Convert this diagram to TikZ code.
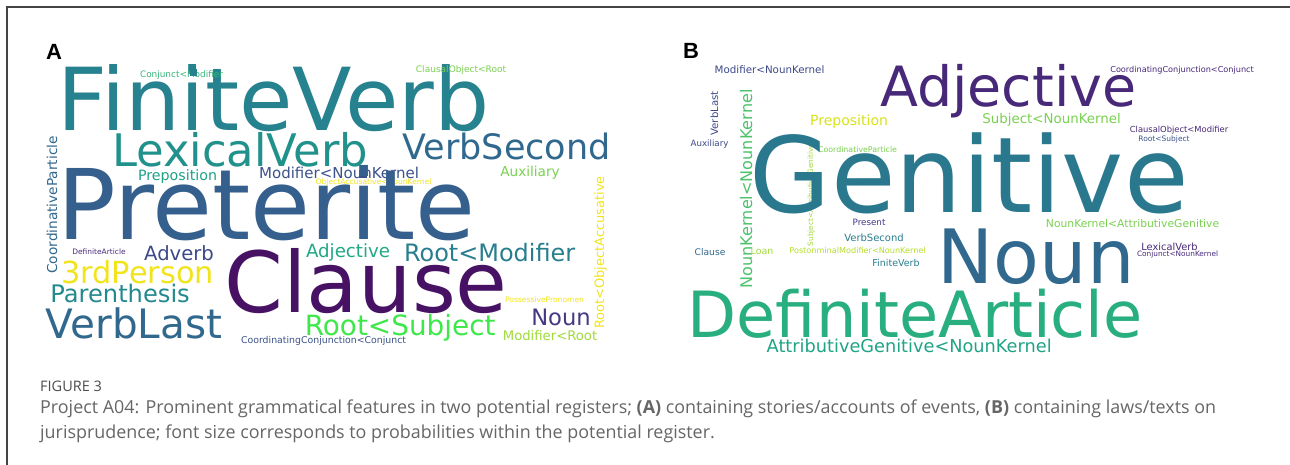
\documentclass[tikz,border=0pt]{standalone}
\usepackage{fontspec}
\setmainfont{DejaVu Sans}
\newfontfamily\capfont{Open Sans}
\newfontfamily\labfont{Liberation Sans}
\definecolor{vTeal}{HTML}{26828E}
\definecolor{vTealB}{HTML}{21918C}
\definecolor{vBlue}{HTML}{31688E}
\definecolor{vBlueP}{HTML}{355F8D}
\definecolor{vIndigo}{HTML}{3E4989}
\definecolor{vNavy}{HTML}{3B528B}
\definecolor{vPurple}{HTML}{482878}
\definecolor{vPurpleD}{HTML}{471164}
\definecolor{vPurpleM}{HTML}{443983}
\definecolor{vGreenT}{HTML}{1FA187}
\definecolor{vGreenA}{HTML}{22A884}
\definecolor{vGreen}{HTML}{35B779}
\definecolor{vGreenD}{HTML}{29AF7F}
\definecolor{vGreenL}{HTML}{7AD151}
\definecolor{vGreenM}{HTML}{4CC26C}
\definecolor{vLime}{HTML}{A0DA39}
\definecolor{vLimeY}{HTML}{B5DE2B}
\definecolor{vYellowG}{HTML}{D8E219}
\definecolor{vYellow}{HTML}{F2E41C}
\definecolor{vVivid}{HTML}{3EE84A}
\definecolor{vTealC}{HTML}{287D8E}
\definecolor{vTealP}{HTML}{23898E}
\definecolor{vTealG}{HTML}{2A788E}
\definecolor{vTealA}{HTML}{20A386}
\definecolor{capgray}{HTML}{666666}
\definecolor{capdark}{HTML}{4D4D4D}
\definecolor{framegray}{HTML}{444444}
\tikzset{
  word/.style={anchor=base west,inner sep=0pt,outer sep=0pt},
  vword/.style={anchor=base west,inner sep=0pt,outer sep=0pt,rotate=90},
  panellabel/.style={anchor=base west,inner sep=0pt,font=\labfont\bfseries\fontsize{22}{22}\selectfont},
  captext/.style={anchor=base west,inner sep=0pt,font=\capfont\fontsize{17.9}{17.9}\selectfont,text=capgray},
}
% name, ink-left x, baseline y, ink width, colour, text
\newcommand\wc[6]{%
  \pgfmathsetlengthmacro\wcW{1.025*#4}%
  \node[word,text=#5] (#1) at ({#2-0.012*#4},#3) {\resizebox{\wcW}{!}{#6}};}
% name, baseline x, bottom y, ink length, colour, text
\newcommand\wv[6]{%
  \pgfmathsetlengthmacro\wcW{1.025*#4}%
  \node[vword,text=#5] (#1) at (#2,{#3+0.012*#4}) {\resizebox{\wcW}{!}{#6}};}
\begin{document}
\begin{tikzpicture}[x=1pt,y=-1pt]
\useasboundingbox[fill=white] (0,0) rectangle (1290,465);
\draw[framegray,line width=1.1pt] (7,465) -- (7,7) -- (1290,7);
% panel labels
\node[panellabel] (labA) at (46,60) {A};
\node[panellabel] (labB) at (683,59) {B};
% ---------- Panel A ----------
\wc{aFiniteVerb}{63}{131}{421}{vTeal}{FiniteVerb}
\wc{aConjMod}{141}{78}{81}{vGreen}{Conjunct<Modifier}
\fill[vTeal] (190,69) rectangle (197,76);
\wc{aClausObjRoot}{417}{73}{88}{vGreenL}{ClausalObject<Root}
\wc{aLexicalVerb}{115}{167}{250}{vTealB}{LexicalVerb}
\wc{aVerbSecond}{405}{160}{203}{vBlue}{VerbSecond}
\wc{aModNK}{261}{179}{156}{vNavy}{Modifier<NounKernel}
\fill[vNavy] (359,171) rectangle (367,178);
\wc{aObjAcc}{317}{185}{113}{vYellow}{ObjectAccusative<NounKernel}
\wc{aAux}{501}{177}{58}{vGreenL}{Auxiliary}
\wc{aPreterite}{62}{240}{408}{vBlueP}{Preterite}
\wc{aPreposition}{139}{181}{77}{vGreenT}{Preposition}
\wv{aCoordPart}{57}{272}{134}{vBlue}{CoordinativeParticle}
\wc{aDefArt}{73}{254}{52}{vPurple}{DefiniteArticle}
\wc{aAdverb}{145}{260}{68}{vIndigo}{Adverb}
\wc{aThird}{63}{283}{149}{vYellow}{3rdPerson}
\wc{aParen}{52}{302}{136}{vTealP}{Parenthesis}
\wc{aVerbLast}{48}{338}{172}{vBlue}{VerbLast}
\wc{aClause}{228}{312}{276}{vPurpleD}{Clause}
\wc{aAdjective}{307}{257}{82}{vGreenA}{Adjective}
\wc{aRootMod}{406}{261}{167}{vTealC}{Root<Modifier}
\wv{aRootObjAcc}{604}{327}{149}{vYellow}{Root<ObjectAccusative}
\wc{aPossPron}{506}{302}{77}{vYellow}{PossessivePronomen}
\wc{aNoun}{532}{325}{58}{vPurpleM}{Noun}
\wc{aRootSubj}{307}{335}{186}{vVivid}{Root<Subject}
\wc{aModRoot}{504}{340}{92}{vLime}{Modifier<Root}
\wc{aCoordConj}{243}{343}{161}{vNavy}{CoordinatingConjunction<Conjunct}
% ---------- Panel B ----------
\wc{bModNK}{716}{74}{107}{vIndigo}{Modifier<NounKernel}
\wc{bAdjective}{883}{107}{250}{vPurple}{Adjective}
\wc{bCoordConj}{1112}{73}{140}{vPurple}{CoordinatingConjunction<Conjunct}
\wv{bVerbLast}{718}{135}{43}{vIndigo}{VerbLast}
\wv{bNKNK}{752}{286}{194}{vGreenM}{NounKernel<NounKernel}
\wc{bAux}{691}{147}{37}{vIndigo}{Auxiliary}
\wc{bPrep}{811}{126}{76}{vYellowG}{Preposition}
\wc{bSubjNK}{984}{124}{135}{vGreenL}{Subject<NounKernel}
\wc{bClausObjMod}{1131}{133}{96}{vPurple}{ClausalObject<Modifier}
\wc{bRootSubj}{1139}{142}{50}{vNavy}{Root<Subject}
\wc{bCoordPart}{819}{153}{77}{vGreenL}{CoordinativeParticle}
\wv{bSubjAttGen}{813}{245}{100}{vLime}{Subject<AttributiveGenitive}
\wc{bGenitive}{755}{213}{428}{vTealG}{Genitive}
\wc{bPresent}{853}{225}{32}{vPurpleM}{Present}
\wc{bNKAttGen}{1048}{227}{169}{vGreenL}{NounKernel<AttributiveGenitive}
\wc{bVerbSecond}{845}{241}{58}{vTealC}{VerbSecond}
\wc{bNoun}{940}{283}{192}{vBlue}{Noun}
\wc{bLexVerb}{1142}{251}{55}{vPurple}{LexicalVerb}
\wc{bConjNK}{1138}{257}{79}{vPurple}{Conjunct<NounKernel}
\wc{bClause}{695}{255}{30}{vBlue}{Clause}
\wc{bLoan}{751}{254}{22}{vLime}{Loan}
\wc{bPostnom}{791}{253}{133}{vLimeY}{PostonminalModifier<NounKernel}
\wc{bFiniteVerb}{873}{266}{46}{vTealC}{FiniteVerb}
\wc{bDefArt}{693}{337}{444}{vGreenD}{DefiniteArticle}
\wc{bAttGenNK}{770}{352}{278}{vTealA}{AttributiveGenitive<NounKernel}
% ---------- caption ----------
\node[anchor=base west,inner sep=0pt,font=\capfont\fontsize{14.5}{14.5}\selectfont,text=capdark] (figlab) at (40,391) {FIGURE 3};
\node[captext] (cap1) at (40,413) {Project A04: Prominent grammatical features in two potential registers; \textbf{(A)} containing stories/accounts of events, \textbf{(B)} containing laws/texts on};
\node[captext] (cap2) at (40,438) {jurisprudence; font size corresponds to probabilities within the potential register.};
\end{tikzpicture}
\end{document}
